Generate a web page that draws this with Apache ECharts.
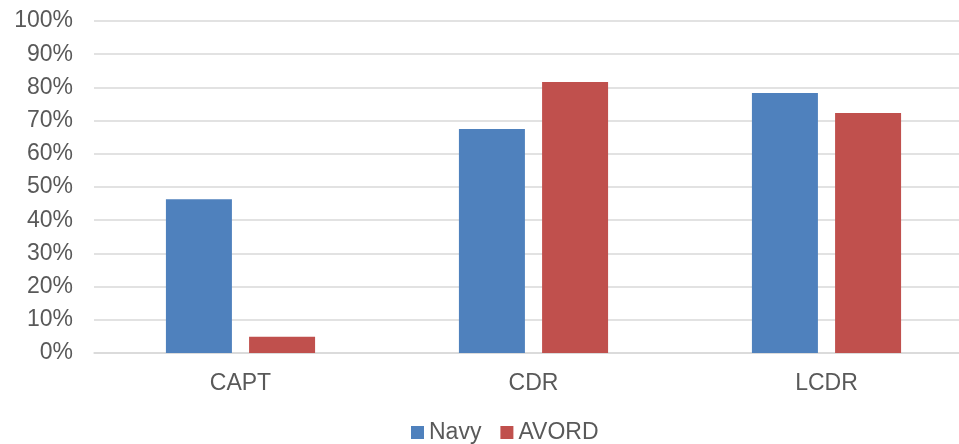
<!DOCTYPE html>
<html>
<head>
<meta charset="utf-8">
<script src="https://cdn.jsdelivr.net/npm/echarts@6/dist/echarts.min.js"></script>
<style>
  html, body { margin: 0; padding: 0; background: #fff; }
  #chart { width: 959px; height: 444px; }
</style>
</head>
<body>
<div id="chart"></div>
<script>
// Ranks on the category axis
var ranks = ['CAPT', 'CDR', 'LCDR'];
// Share per rank, in percent
var navyValues = [46.3, 67.5, 78.3];
var avordValues = [4.9, 81.6, 72.3];
var seriesNames = ['Navy', 'AVORD'];

var chart = echarts.init(document.getElementById('chart'), null, { renderer: 'canvas' });

var font = 'Liberation Sans, Arial, sans-serif';

chart.setOption({
  animation: false,
  backgroundColor: '#ffffff',
  // plot area runs past the right edge of the canvas
  grid: {
    left: 94, width: 879, top: 21, bottom: 91,
    containLabel: false,
    outerBoundsMode: 'none'
  },
  legend: {
    data: seriesNames,
    top: 416,
    left: 406,
    itemWidth: 13,
    itemHeight: 13,
    itemGap: 19,
    icon: 'rect',
    textStyle: { fontFamily: font, fontSize: 23, color: '#595959' }
  },
  xAxis: {
    type: 'category',
    data: ranks,
    axisLine: { show: true, lineStyle: { color: '#d9d9d9', width: 1.5 } },
    axisTick: { show: false },
    axisLabel: { fontFamily: font, fontSize: 23, color: '#595959', margin: 19 }
  },
  yAxis: {
    type: 'value',
    min: 0,
    max: 100,
    interval: 10,
    axisLine: { show: false },
    axisTick: { show: false },
    splitLine: { lineStyle: { color: '#d9d9d9', width: 1.5 } },
    axisLabel: {
      fontFamily: font, fontSize: 23, color: '#595959', margin: 21,
      formatter: function (v) { return v + '%'; }
    }
  },
  series: [
    {
      name: seriesNames[0],
      type: 'bar',
      data: navyValues,
      barWidth: 66,
      barGap: '26%',
      itemStyle: { color: '#4f81bd' }
    },
    {
      name: seriesNames[1],
      type: 'bar',
      data: avordValues,
      barWidth: 66,
      barGap: '26%',
      itemStyle: { color: '#c0504d' }
    }
  ]
});
</script>
</body>
</html>
